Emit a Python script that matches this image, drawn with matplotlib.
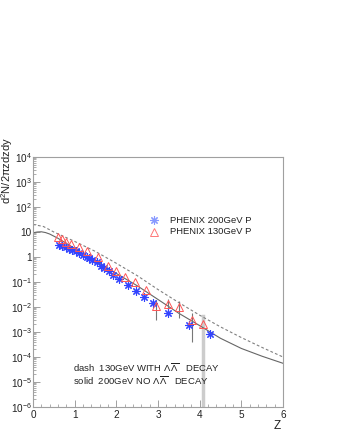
import numpy as np
import matplotlib
matplotlib.use("Agg")
import matplotlib.pyplot as plt
from matplotlib.ticker import LogLocator, FixedLocator, NullFormatter, MultipleLocator

# ---- data ----
blue_z = [0.62, 0.70, 0.78, 0.86, 0.94, 1.02, 1.11, 1.21, 1.29, 1.35, 1.42, 1.53,
          1.62, 1.70, 1.82, 1.91, 2.07, 2.27, 2.47, 2.67, 2.89, 3.23, 3.74, 4.25]
blue_y = [3.0, 2.75, 2.45, 2.15, 1.9, 1.7, 1.5, 1.2, 1.03, 0.89, 0.74, 0.61,
          0.44, 0.36, 0.28, 0.19, 0.128, 0.074, 0.044, 0.024, 0.015, 0.0058, 0.0019, 0.00085]

red_z = [0.60, 0.70, 0.80, 0.90, 1.10, 1.30, 1.55, 1.80, 2.00, 2.20, 2.45, 2.70,
         2.95, 3.23, 3.51, 3.81, 4.09]
red_y = [6.5, 5.2, 4.0, 3.4, 2.6, 1.7, 1.0, 0.42, 0.27, 0.16, 0.10, 0.05,
         0.011, 0.0135, 0.0103, 0.003, 0.002]
red_err = [0, 0, 0, 0, 0, 0, 0, 0, 0, 0, 0, 0,
           0.008, 0.007, 0.0067, 0.0026, 0.0024]

solid_z = [0.0, 0.1, 0.2, 0.3, 0.4, 0.6, 0.8, 1.0, 1.25, 1.5, 1.75, 2.0, 2.5, 3.0,
           3.5, 4.0, 4.5, 5.0, 5.5, 6.0]
solid_y = [9.3, 10.0, 10.2, 9.5, 8.3, 5.6, 3.5, 2.2, 1.25, 0.71, 0.40, 0.22, 0.071, 0.020,
           0.0056, 0.0018, 5.6e-4, 2.2e-4, 1.07e-4, 5.6e-5]

dash_z = [0.0, 0.25, 0.5, 0.75, 1.0, 1.25, 1.5, 2.0, 2.5, 3.0, 3.5, 4.0, 4.5, 5.0, 5.5, 6.0]
dash_y = [20.0, 16.6, 10.0, 6.5, 4.2, 2.65, 1.66, 0.56, 0.18, 0.05, 0.015, 0.0047,
          0.0016, 6.0e-4, 2.4e-4, 1.0e-4]

ytick_vals = [1e-6, 1e-5, 1e-4, 1e-3, 1e-2, 1e-1, 1, 10, 1e2, 1e3, 1e4]
ytick_labels = [r'$10^{-6}$', r'$10^{-5}$', r'$10^{-4}$', r'$10^{-3}$', r'$10^{-2}$',
                r'$10^{-1}$', '1', '10', r'$10^{2}$', r'$10^{3}$', r'$10^{4}$']
xtick_vals = [0, 1, 2, 3, 4, 5, 6]

plt.rcParams['font.family'] = ['Liberation Sans', 'DejaVu Sans']
plt.rcParams['mathtext.fontset'] = 'custom'
plt.rcParams['mathtext.rm'] = 'Liberation Sans'
plt.rcParams['mathtext.it'] = 'Liberation Sans'

fig = plt.figure(figsize=(3.4, 4.4), dpi=100)
ax = fig.add_axes([33/340, 33/440, 250/340, 250/440])

frame = '#a0a0a0'
ax.plot(dash_z, dash_y, color='#808080', lw=0.8, ls=(0, (2.5, 2.0)))
ax.plot(solid_z, solid_y, color='#666666', lw=0.8)

n = len(red_err) - 1
ax.errorbar(red_z[:n], red_y[:n], yerr=[red_err[:n], red_err[:n]], fmt='none',
            ecolor='#777777', elinewidth=0.8, capsize=0)
ax.plot([red_z[n], red_z[n]], [1e-7, red_y[n] + red_err[n]], color='#cccccc', lw=2.5, zorder=1)

ax.plot(blue_z, blue_y, ls='none', marker=(8, 2, 0), ms=6, mew=0.8, color='#3344ff')
ax.plot(red_z, red_y, ls='none', marker='^', ms=6, mfc='none', mew=0.7, mec='#ff5555')

ax.set_yscale('log')
ax.set_xlim(0, 6)
ax.set_ylim(1e-6, 1e4)
ax.yaxis.set_major_locator(FixedLocator(ytick_vals))
ax.set_yticklabels(ytick_labels)
ax.yaxis.set_minor_locator(LogLocator(base=10, subs=np.arange(2, 10), numticks=100))
ax.yaxis.set_minor_formatter(NullFormatter())
ax.set_xticks(xtick_vals)
ax.set_xticklabels([str(v) for v in xtick_vals])
ax.xaxis.set_minor_locator(MultipleLocator(0.2))

for s in ax.spines.values():
    s.set_color(frame)
    s.set_linewidth(0.8)
ax.tick_params(which='both', direction='in', color=frame, labelsize=7.2, labelcolor='#222222')
ax.tick_params(which='major', length=5, width=0.7)
ax.tick_params(which='minor', length=2.5, width=0.6)
ax.tick_params(axis='y', pad=1.0)
ax.tick_params(axis='x', pad=2)

fig.text(7.5/340, 1 - 171/440, r'd$^{2}$N/2$\pi$zdzdy', rotation=90, ha='center', va='center',
         fontsize=8, color='#222222')
fig.text(281/340, 1 - 426/440, 'Z', ha='right', va='center', fontsize=8.5, color='#222222')

# legend
lx = (154 - 33) / 250 * 6
ax.plot([lx], [10 ** ((257 - 220) / 25)], ls='none', marker=(8, 2, 0), ms=6, mew=0.8,
        color='#8899ff', clip_on=False)
ax.plot([lx], [10 ** ((257 - 232) / 25)], ls='none', marker='^', ms=6, mfc='none', mew=0.7,
        mec='#ff7777', clip_on=False)
fig.text(170/340, 1 - 220/440, 'PHENIX 200GeV P', ha='left', va='center', fontsize=6.8,
         color='#222222')
fig.text(170/340, 1 - 232/440, 'PHENIX 130GeV P', ha='left', va='center', fontsize=6.8,
         color='#222222')

fig.text(73/340, 1 - 368/440, r'dash  130GeV WITH $\Lambda\,\overline{\Lambda}$   DECAY',
         ha='left', va='center', fontsize=6.8, color='#222222')
fig.text(73/340, 1 - 381/440, r'solid  200GeV NO $\Lambda\,\overline{\Lambda}$   DECAY',
         ha='left', va='center', fontsize=6.8, color='#222222')

fig.savefig('out.png', dpi=100)
